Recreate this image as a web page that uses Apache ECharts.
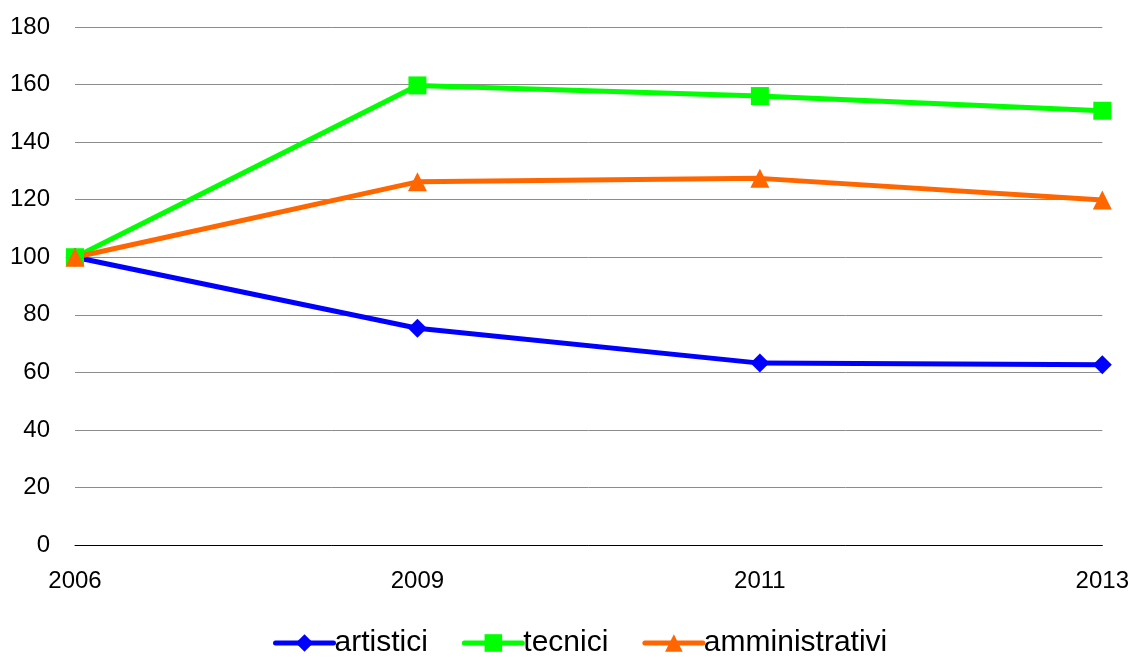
<!DOCTYPE html>
<html>
<head>
<meta charset="utf-8">
<script src="https://cdn.jsdelivr.net/npm/echarts@6/dist/echarts.min.js"></script>
<style>
  html, body { margin: 0; padding: 0; background: #fff; }
  #chart { width: 1132px; height: 657px; }
</style>
</head>
<body>
<div id="chart"></div>
<script>
// Index values (2006 = 100) by staff category
const years = ['2006', '2009', '2011', '2013'];
const artistici = [100, 75.3, 63.2, 62.6];
const tecnici = [100, 159.7, 156.0, 150.9];
const amministrativi = [100, 126.2, 127.4, 119.9];

const FONT = '"Liberation Sans Narrow", "Liberation Sans", Arial, sans-serif';

const chart = echarts.init(document.getElementById('chart'), null, { renderer: 'canvas' });

function lineSeries(name, data, color, symbol, size) {
  return {
    name: name,
    type: 'line',
    data: data,
    symbol: symbol,
    symbolSize: size,
    lineStyle: { color: color, width: 5 },
    itemStyle: { color: color },
    emphasis: { disabled: true },
    animation: false
  };
}

chart.setOption({
  animation: false,
  grid: { left: 75, right: 29, top: 27, bottom: 112 },
  xAxis: {
    type: 'category',
    data: years,
    boundaryGap: false,
    axisLine: { show: true, lineStyle: { color: '#000', width: 1 } },
    axisTick: { show: false },
    axisLabel: {
      color: '#000',
      fontFamily: FONT,
      fontSize: 24,
      margin: 24,
      alignMinLabel: 'center',
      alignMaxLabel: 'center'
    },
    splitLine: { show: false }
  },
  yAxis: {
    type: 'value',
    min: 0,
    max: 180,
    interval: 20,
    axisLine: { show: false },
    axisTick: { show: false },
    axisLabel: {
      color: '#000',
      fontFamily: FONT,
      fontSize: 24,
      margin: 25
    },
    splitLine: { show: true, lineStyle: { color: '#8c8c8c', width: 1 } }
  },
  legend: {
    bottom: -6,
    left: 268,
    itemWidth: 58,
    itemHeight: 22,
    itemGap: 34,
    lineStyle: { width: 5, cap: 'round' },
    textStyle: { color: '#000', fontFamily: FONT, fontSize: 30, padding: [0, 0, 0, -4] },
    data: ['artistici', 'tecnici', 'amministrativi']
  },
  series: [
    lineSeries('artistici', artistici, '#0000ff', 'diamond', 19),
    lineSeries('tecnici', tecnici, '#00ff00', 'rect', 18),
    lineSeries('amministrativi', amministrativi, '#ff6600', 'triangle', 19)
  ]
});
</script>
</body>
</html>
